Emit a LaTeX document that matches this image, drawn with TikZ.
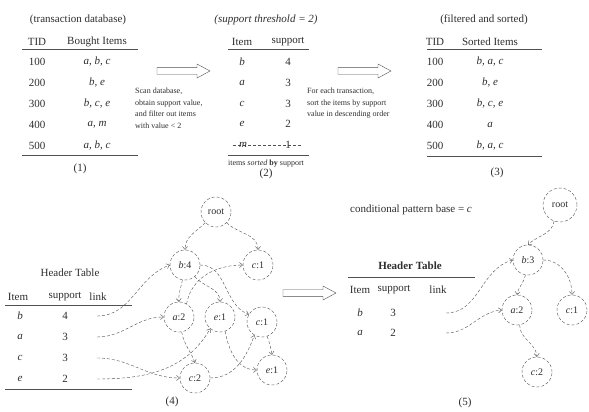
\documentclass[tikz,border=0pt]{standalone}
\usepackage{fontspec}
\setmainfont{Liberation Serif}
\usetikzlibrary{arrows.meta}
\definecolor{ink}{HTML}{2e2e2e}
\definecolor{ln}{HTML}{505050}
\begin{document}
\begin{tikzpicture}[x=1pt,y=-1pt,
  txt/.style={text=ink,inner sep=0pt,font=\fontsize{11}{13}\selectfont},
  small/.style={text=ink,inner sep=0pt,align=left,font=\fontsize{8}{11.5}\selectfont},
  fpn/.style={circle,draw=ln,densely dashed,thin,minimum size=30pt,inner sep=0pt,text=ink,font=\fontsize{10}{12}\selectfont},
  lnk/.style={draw=ln,densely dashed,thin,-{Straight Barb[length=3pt,width=5pt]}},
  hrule/.style={draw=ln,line width=0.9pt},
  bigarrow/.pic={\draw[ln,thin,fill=white] (0,-3.3) -- (40,-3.3) -- (40,-7) -- (53,0) -- (40,7) -- (40,3.3) -- (0,3.3) -- cycle;}
]
\useasboundingbox[fill=white] (0,0) rectangle (589,412);

% ---------- table (1)
\node[txt] (t1title) at (78,20) {(transaction database)};
\node[txt] (t1h1) at (37,42) {TID};
\node[txt] (t1h2) at (97,42) {Bought Items};
\draw[hrule] (22,49) -- (138,49);
\foreach \yy/\tid/\items [count=\i] in {62/100/{a, b, c},83/200/{b, e},104/300/{b, c, e},125/400/{a, m},146/500/{a, b, c}}{
  \node[txt] (t1tid\i) at (37,\yy) {\tid};
  \node[txt] (t1it\i) at (97,\yy) {\textit{\items}};
}
\draw[hrule] (22,155) -- (138,155);
\node[txt] (lab1) at (80,169) {(1)};

% arrow 1 and text
\pic at (157,71) {bigarrow};
\node[small,anchor=north west] (scan) at (135,88) {Scan database,\\obtain support value,\\and filter out items\\with value < 2};

% ---------- table (2)
\node[txt] (t2title) at (266,20) {\textit{(support threshold = 2)}};
\node[txt] (t2h1) at (242,42) {Item};
\node[txt] (t2h2) at (288,42) {support};
\draw[hrule] (228,49) -- (309,49);
\foreach \yy/\it/\sup [count=\i] in {62/b/4,83/a/3,104/c/3,124/e/2}{
  \node[txt] (t2it\i) at (242,\yy) {\textit{\it}};
  \node[txt] (t2sp\i) at (288,\yy) {\sup};
}
\draw[ln,densely dashed] (233,145) -- (302,145);
\node[txt] (t2m) at (243,145) {\textit{m}};
\node[txt] (t2m1) at (288,145) {1};
\draw[hrule] (228,155) -- (309,155);
\node[small] (sorted) at (266,164) {items \textit{sorted} \textbf{by} support};
\node[txt] (lab2) at (266,174) {(2)};

% arrow 2 and text
\pic at (338,71) {bigarrow};
\node[small,anchor=north west] (foreach) at (307,88) {For each transaction,\\sort the items by support\\value in descending order};

% ---------- table (3)
\node[txt] (t3title) at (484,20) {(filtered and sorted)};
\node[txt] (t3h1) at (435,42) {TID};
\node[txt] (t3h2) at (490,42) {Sorted Items};
\draw[hrule] (427,49) -- (542,49);
\foreach \yy/\tid/\items [count=\i] in {62/100/{b, a, c},83/200/{b, e},104/300/{b, c, e},125/400/{a},146/500/{b, a, c}}{
  \node[txt] (t3tid\i) at (435,\yy) {\tid};
  \node[txt] (t3it\i) at (490,\yy) {\textit{\items}};
}
\draw[hrule] (427,156) -- (542,156);
\node[txt] (lab3) at (497,173) {(3)};

% ---------- (4) header table
\node[txt] (ht4) at (70,273) {Header Table};
\node[txt] (ht4a) at (18,297) {Item};
\node[txt] (ht4b) at (65,297) {support};
\node[txt] (ht4c) at (98,297) {link};
\draw[hrule] (5,305) -- (132,305);
\foreach \yy/\it/\sup [count=\i] in {316/b/4,337/a/3,358/c/3,379/e/2}{
  \node[txt] (h4it\i) at (20,\yy) {\textit{\it}};
  \node[txt] (h4sp\i) at (65,\yy) {\sup};
  \coordinate (h4l\i) at (97,\yy);
}
\draw[hrule] (5,389) -- (132,389);
\node[txt] (lab4) at (172,402) {(4)};

% ---------- (4) FP-tree
\node[fpn] (r4) at (216,212) {root};
\node[fpn] (b4) at (185,265) {\textit{b}:4};
\node[fpn] (c4a) at (258,265) {\textit{c}:1};
\node[fpn] (a4) at (179,317) {\textit{a}:2};
\node[fpn] (e4a) at (220,317) {\textit{e}:1};
\node[fpn] (c4b) at (262,322) {\textit{c}:1};
\node[fpn] (c4c) at (195,378) {\textit{c}:2};
\node[fpn] (e4b) at (272,370) {\textit{e}:1};

\draw[lnk] (r4.225) to[out=225,in=90] (b4.north);
\draw[lnk] (r4.-45) to[out=-45,in=90] (c4a.north);
\draw[lnk] (b4.-100) to[out=-100,in=95] (a4.north);
\draw[lnk] (b4.-50) to[out=-50,in=90] (e4a.north);
\draw[lnk] (b4.east) to[out=0,in=160] (c4b.150);
\draw[lnk] (a4.60) to[out=80,in=180] (c4a.west);
\draw[lnk] (a4.-80) to[out=-80,in=110] (c4c.north);
\draw[lnk] (c4b.-70) to[out=-70,in=100] (e4b.north);
\draw[lnk] (e4a.-70) to[out=-80,in=180] (e4b.west);
\draw[lnk] (c4c.east) to[out=0,in=-110] (c4b.-120);

\draw[lnk] (h4l1) to[out=0,in=200] (b4.west);
\draw[lnk] (h4l2) to[out=0,in=180] (a4.west);
\draw[lnk] (h4l3) to[out=0,in=180] (c4c.west);
\draw[lnk] (h4l4) to[out=0,in=-120] (e4a.-130);

% arrow 3
\pic at (283,293) {bigarrow};

% ---------- (5)
\node[txt,anchor=west] (cpb) at (350,210) {conditional pattern base = \textit{c}};
\node[txt] (ht5) at (410,266) {\textbf{Header Table}};
\draw[hrule] (348,277) -- (475,277);
\node[txt] (ht5a) at (360,290) {Item};
\node[txt] (ht5b) at (394,290) {support};
\node[txt] (ht5c) at (438,290) {link};
\foreach \yy/\it/\sup [count=\i] in {313/b/3,333/a/2}{
  \node[txt] (h5it\i) at (360,\yy) {\textit{\it}};
  \node[txt] (h5sp\i) at (393,\yy) {\sup};
  \coordinate (h5l\i) at (446,\yy);
}

\node[fpn,minimum size=34pt] (r5) at (560,205) {root};
\node[fpn] (b5) at (528,260) {\textit{b}:3};
\node[fpn] (a5) at (517,310) {\textit{a}:2};
\node[fpn] (c5a) at (572,310) {\textit{c}:1};
\node[fpn] (c5b) at (537,372) {\textit{c}:2};

\draw[lnk] (r5.-110) to[out=-100,in=45] (b5.north);
\draw[lnk] (b5.-100) to[out=-100,in=80] (a5.north);
\draw[lnk] (b5.east) to[out=0,in=90] (c5a.north);
\draw[lnk] (a5.-80) to[out=-90,in=95] (c5b.north);
\draw[lnk] (h5l1) to[out=0,in=195] (b5.west);
\draw[lnk] (h5l2) to[out=0,in=185] (a5.west);

\node[txt] (lab5) at (465,403) {(5)};
\end{tikzpicture}
\end{document}
